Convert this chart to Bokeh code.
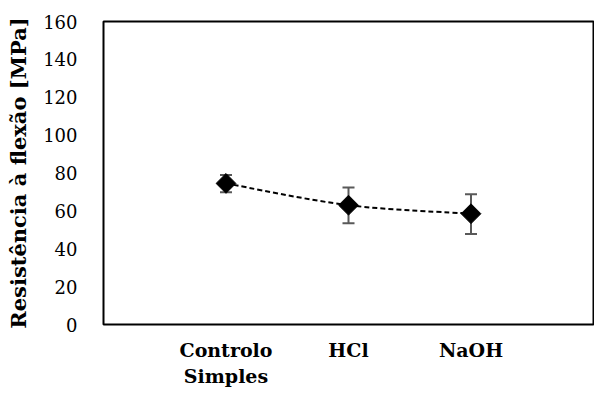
import numpy as np
from bokeh.plotting import figure
from bokeh.models import ColumnDataSource, Whisker, TeeHead, FixedTicker, Range1d
from bokeh.embed import file_html
from bokeh.resources import INLINE

categories = ["Controlo\nSimples", "HCl", "NaOH"]
x_pos = [1, 2, 3]
values = [74.5, 63.0, 58.5]
err_low = [69.8, 53.5, 47.8]
err_high = [79.0, 72.3, 68.8]
y_ticks = [0, 20, 40, 60, 80, 100, 120, 140, 160]

FONT = "DejaVu Serif"

p = figure(width=594, height=392, output_backend="svg", toolbar_location=None,
           x_range=Range1d(0, 4), y_range=Range1d(0, 160),
           min_border_left=103, min_border_right=1, min_border_top=21, min_border_bottom=68)
p.background_fill_color = "white"
p.border_fill_color = "white"
p.outline_line_color = "black"
p.outline_line_width = 2
p.xgrid.visible = False
p.ygrid.visible = False

# y axis
p.yaxis.ticker = FixedTicker(ticks=y_ticks)
p.yaxis.axis_line_color = None
p.yaxis.major_tick_line_color = None
p.yaxis.minor_tick_line_color = None
p.yaxis.major_label_text_font = FONT
p.yaxis.major_label_text_font_size = "18px"
p.yaxis.major_label_text_color = "black"
p.yaxis.major_label_standoff = 20
p.yaxis.axis_label = "Resistência à flexão [MPa]"
p.yaxis.axis_label_text_font = FONT
p.yaxis.axis_label_text_font_style = "bold"
p.yaxis.axis_label_text_font_size = "21px"
p.yaxis.axis_label_text_color = "black"
p.yaxis.axis_label_standoff = 9

# x axis
p.xaxis.ticker = FixedTicker(ticks=x_pos)
p.xaxis.major_label_overrides = {x: c for x, c in zip(x_pos, categories)}
p.xaxis.axis_line_color = None
p.xaxis.major_tick_line_color = None
p.xaxis.minor_tick_line_color = None
p.xaxis.major_label_text_font = FONT
p.xaxis.major_label_text_font_style = "bold"
p.xaxis.major_label_text_font_size = "19px"
p.xaxis.major_label_text_color = "black"
p.xaxis.major_label_standoff = 8

# smoothed dashed line (Catmull-Rom -> cubic bezier)
xs = np.array(x_pos, dtype=float)
ys = np.array(values, dtype=float)
n = len(xs)
x0, y0, x1, y1, cx0, cy0, cx1, cy1 = [], [], [], [], [], [], [], []
for i in range(n - 1):
    pm = (xs[max(i - 1, 0)], ys[max(i - 1, 0)])
    pa = (xs[i], ys[i])
    pb = (xs[i + 1], ys[i + 1])
    pn = (xs[min(i + 2, n - 1)], ys[min(i + 2, n - 1)])
    x0.append(pa[0]); y0.append(pa[1]); x1.append(pb[0]); y1.append(pb[1])
    cx0.append(pa[0] + (pb[0] - pm[0]) / 6); cy0.append(pa[1] + (pb[1] - pm[1]) / 6)
    cx1.append(pb[0] - (pn[0] - pa[0]) / 6); cy1.append(pb[1] - (pn[1] - pa[1]) / 6)
p.bezier(x0=x0, y0=y0, x1=x1, y1=y1, cx0=cx0, cy0=cy0, cx1=cx1, cy1=cy1,
         line_color="black", line_width=2, line_dash="5 3")

src = ColumnDataSource(dict(x=x_pos, y=values, lo=err_low, hi=err_high))
w = Whisker(base="x", lower="lo", upper="hi", source=src,
            line_color="#595959", line_width=2,
            upper_head=TeeHead(size=12, line_color="#595959", line_width=2),
            lower_head=TeeHead(size=12, line_color="#595959", line_width=2))
p.add_layout(w)

p.scatter("x", "y", source=src, marker="square", angle=np.pi / 4, size=14,
          fill_color="black", line_color="black")

open("out.html", "w").write(file_html(p, INLINE))
